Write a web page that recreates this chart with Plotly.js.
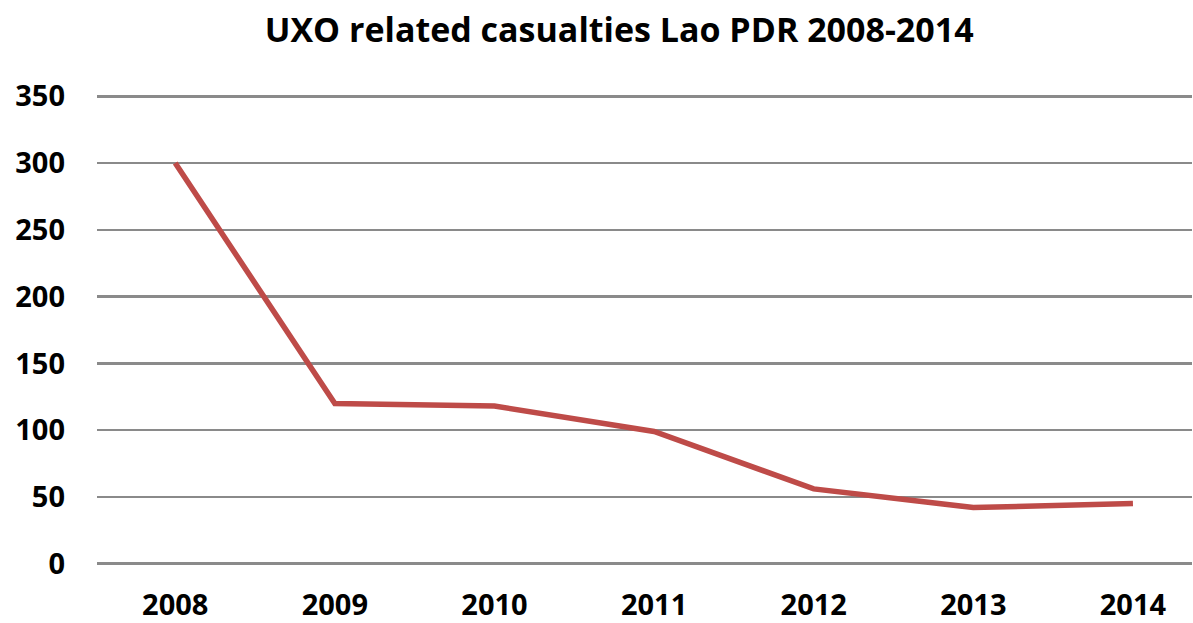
<!DOCTYPE html>
<html>
<head>
<meta charset="utf-8">
<script src="https://cdn.plot.ly/plotly-3.0.1.min.js"></script>
<style>html,body{margin:0;padding:0;background:#fff;}#chart{width:1193px;height:623px;}</style>
</head>
<body>
<div id="chart"></div>
<script>
const years = ["2008", "2009", "2010", "2011", "2012", "2013", "2014"];
const casualties = [300, 120, 118, 99, 56, 42, 45];
const yTicks = [0, 50, 100, 150, 200, 250, 300, 350];

const FONT = '"Open Sans", sans-serif';

const trace = {
  x: years.map((_, i) => i),
  y: casualties,
  type: 'scatter',
  mode: 'lines',
  line: {color: '#BE4B48', width: 5.5},
  hoverinfo: 'x+y'
};

const layout = {
  width: 1193,
  height: 623,
  margin: {l: 97, r: 1, t: 95, b: 58},
  paper_bgcolor: '#ffffff',
  plot_bgcolor: '#ffffff',
  showlegend: false,
  title: {
    text: '<b>UXO related casualties Lao PDR 2008-2014</b>',
    font: {family: FONT, size: 34, color: '#000'},
    x: 0.519, xanchor: 'center',
    y: 0.952, yanchor: 'middle'
  },
  xaxis: {
    range: [-0.49, 6.37],
    tickmode: 'array',
    tickvals: years.map((_, i) => i),
    ticktext: years.map(y => '<b>' + y + '</b>'),
    showgrid: false,
    zeroline: false,
    showline: false,
    ticks: '',
    ticklabelstandoff: 20,
    tickfont: {family: FONT, size: 29, color: '#000'}
  },
  yaxis: {
    range: [-1, 351],
    tickmode: 'array',
    tickvals: yTicks,
    ticktext: yTicks.map(v => '<b>' + v + '</b>'),
    showgrid: true,
    gridcolor: '#8a8a8a',
    gridwidth: 2.5,
    zeroline: false,
    showline: false,
    ticks: '',
    ticklabelstandoff: 31,
    tickfont: {family: FONT, size: 29, color: '#000'}
  }
};

Plotly.newPlot('chart', [trace], layout, {displayModeBar: false, staticPlot: true});
</script>
</body>
</html>
